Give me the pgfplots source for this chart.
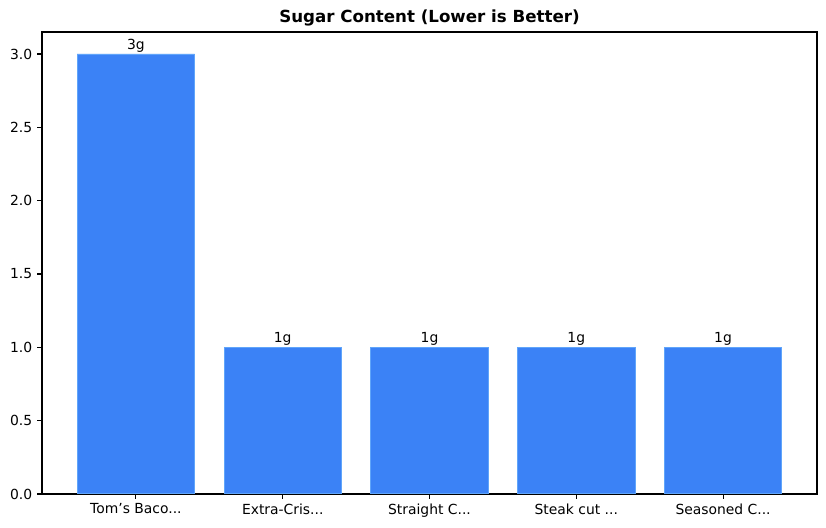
\documentclass[border=0pt]{standalone}
\usepackage{fontspec}
\setmainfont{DejaVu Sans}
\usepackage{pgfplots}
\pgfplotsset{compat=1.18}
\definecolor{barfill}{HTML}{3B82F6}
\definecolor{baredge}{HTML}{60A5FA}
\newcommand{\dd}{.{}.{}.}
\begin{document}
\begin{tikzpicture}
\begin{axis}[
  name=ax,
  scale only axis,
  width=558pt, height=332.6pt,
  xmin=-0.64, xmax=4.64,
  ymin=0, ymax=3.15,
  xtick={0,1,2,3,4},
  xticklabels={{Tom’s Baco\dd},{Extra-Cris\dd},{Straight C\dd},{Steak cut \dd},{Seasoned C\dd}},
  ytick={0,0.5,1,1.5,2,2.5,3},
  yticklabel style={/pgf/number format/.cd,fixed,fixed zerofill,precision=1},
  /pgf/number format/assume math mode=true,
  tick style={black, line width=0.8pt},
  major tick length=3.5pt,
  tick align=outside,
  xtick pos=bottom, ytick pos=left,
  axis line style={line width=0.8pt},
  ticklabel style={font=\fontsize{10}{12}\selectfont},
  title={\fontsize{12}{14}\selectfont\bfseries Sugar Content (Lower is Better)},
  title style={yshift=-5.5pt},
  clip=false,
  every axis plot/.append style={ybar, bar width=0.8, bar shift=0pt},
  nodes near coords={\pgfmathprintnumber[fixed,precision=0]{\pgfplotspointmeta}g},
  every node near coord/.append style={font=\fontsize{10}{12}\selectfont, anchor=south, inner sep=1pt, black},
]
\addplot[fill=barfill, draw=baredge, line width=0.7pt] coordinates {(0,3) (1,1) (2,1) (3,1) (4,1)};
\end{axis}
\pgfresetboundingbox
\path ([shift={(-30.24pt,-24.48pt)}]ax.south west) rectangle ([shift={(6.48pt,23.04pt)}]ax.north east);
\end{tikzpicture}
\end{document}
